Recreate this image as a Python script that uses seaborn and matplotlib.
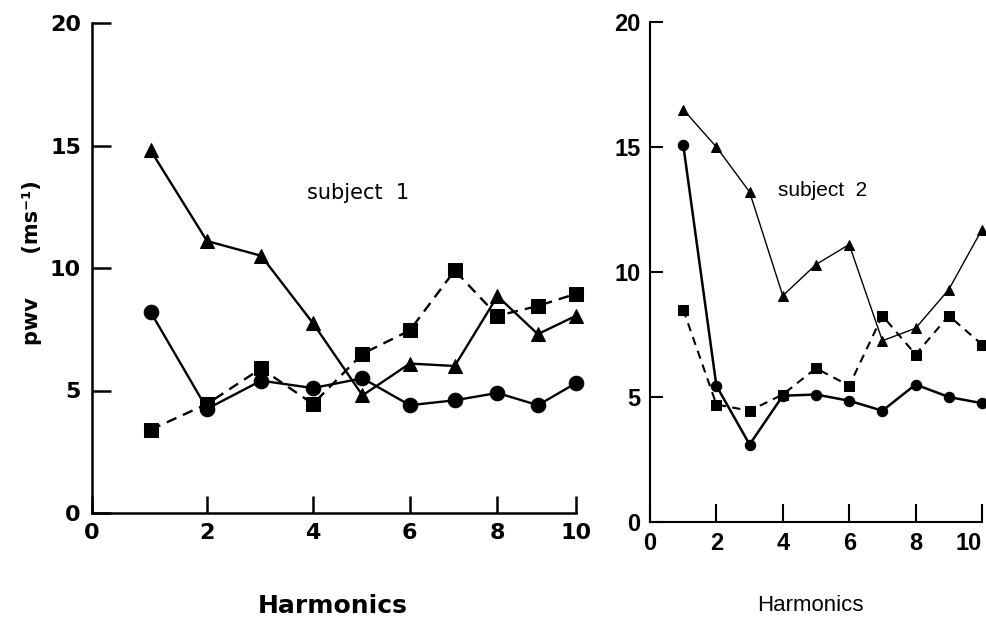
import numpy as np
import pandas as pd
import matplotlib
matplotlib.use("Agg")
import matplotlib.pyplot as plt
from matplotlib.font_manager import FontProperties
import seaborn as sns

# ---------------- data ----------------
harmonics = [1, 2, 3, 4, 5, 6, 7, 8, 9, 10]

s1_triangle = [14.8, 11.1, 10.5, 7.75, 4.8, 6.1, 6.0, 8.85, 7.3, 8.05]
s1_circle = [8.2, 4.25, 5.4, 5.1, 5.5, 4.4, 4.6, 4.9, 4.4, 5.3]
s1_square = [3.4, 4.45, 5.9, 4.45, 6.5, 7.45, 9.9, 8.05, 8.45, 8.95]

s2_triangle = [16.5, 15.0, 13.2, 9.05, 10.3, 11.1, 7.25, 7.75, 9.3, 11.7]
s2_circle = [15.1, 5.45, 3.1, 5.05, 5.1, 4.85, 4.45, 5.5, 5.0, 4.75]
s2_square = [8.5, 4.7, 4.45, 5.1, 6.15, 5.45, 8.25, 6.7, 8.25, 7.1]

x_ticks = [0, 2, 4, 6, 8, 10]
y_ticks = [0, 5, 10, 15, 20]
panel_titles = ["subject  1", "subject  2"]
x_label = "Harmonics"
y_label = "pwv      (ms\u207b\u00b9)"

# ---------------- figure ----------------
sns.set_theme(style="white")
plt.rcParams["font.family"] = ["DejaVu Sans"]

fig = plt.figure(figsize=(9.86, 6.17), dpi=100)
W, H = 986, 617
ax1 = fig.add_axes([92 / W, 1 - 513 / H, (576 - 92) / W, (513 - 23) / H])
ax2 = fig.add_axes([650 / W, 1 - 522 / H, (982 - 650) / W, (522 - 22) / H])


def df_of(vals):
    return pd.DataFrame({"harmonic": harmonics, "pwv": vals})


def draw(ax, tri, circ, sq, ms, lw_tri, lw_circ, lw_sq, dash):
    sns.lineplot(data=df_of(sq), x="harmonic", y="pwv", ax=ax, color="black",
                 marker="s", markersize=ms, markeredgecolor="black",
                 linewidth=lw_sq, dashes=dash, clip_on=False, zorder=3)
    sns.lineplot(data=df_of(circ), x="harmonic", y="pwv", ax=ax, color="black",
                 marker="o", markersize=ms, markeredgecolor="black",
                 linewidth=lw_circ, clip_on=False, zorder=3)
    sns.lineplot(data=df_of(tri), x="harmonic", y="pwv", ax=ax, color="black",
                 marker="^", markersize=ms, markeredgecolor="black",
                 linewidth=lw_tri, clip_on=False, zorder=3)


draw(ax1, s1_triangle, s1_circle, s1_square, 10.5, 1.7, 1.7, 1.7, (4.5, 3))
draw(ax2, s2_triangle, s2_circle, s2_square, 7.5, 1.0, 1.8, 1.5, (4, 3))

# slightly compressed harmonic axis of the left panel (as printed)
A, B = 5.98, -0.114


def fwd(x):
    x = np.asarray(x, dtype=float)
    return A * x + B * x ** 2


def inv(y):
    y = np.asarray(y, dtype=float)
    return (-A + np.sqrt(np.maximum(A * A + 4 * B * y, 0))) / (2 * B)


ax1.set_xscale("function", functions=(fwd, inv))

left_tick_fp = FontProperties(family="DejaVu Sans", weight="bold", size=16)
right_tick_fp = FontProperties(family="Liberation Sans", weight="bold", size=17)


def style(ax, lw, ylen, xlen, fp, xpad, ypad):
    ax.set_xlim(0, 10)
    ax.set_ylim(0, 20)
    for s in ["top", "right"]:
        ax.spines[s].set_visible(False)
    for s in ["left", "bottom"]:
        ax.spines[s].set_color("black")
        ax.spines[s].set_linewidth(lw)
    ax.set_xticks(x_ticks, labels=[str(t) for t in x_ticks])
    ax.set_yticks(y_ticks, labels=[str(t) for t in y_ticks])
    ax.tick_params(axis="y", which="major", direction="in", length=ylen, width=lw,
                   color="black", labelcolor="black", pad=ypad, left=True)
    ax.tick_params(axis="x", which="major", direction="in", length=xlen, width=lw,
                   color="black", labelcolor="black", pad=xpad, bottom=True)
    ax.minorticks_off()
    for lab in ax.get_xticklabels() + ax.get_yticklabels():
        lab.set_fontproperties(fp)
    ax.set_facecolor("white")
    ax.grid(False)


style(ax1, 1.8, 14, 12, left_tick_fp, 7, 8)
style(ax2, 1.5, 9, 13, right_tick_fp, 7, 7)
# last harmonic label of the right panel sits against the page edge
ax2.get_xticklabels()[-1].set_horizontalalignment("right")

# labels
ax1.set_xlabel(x_label, fontsize=18, fontweight="bold", family="DejaVu Sans", color="black")
ax1.xaxis.set_label_coords(0.498, -0.165)
ax2.set_xlabel(x_label, fontsize=16, family="Liberation Sans", color="black")
ax2.xaxis.label.set_verticalalignment("baseline")
ax2.xaxis.set_label_coords(0.482, -0.178)

ax1.set_ylabel(y_label, fontsize=15, fontweight="bold", family="DejaVu Sans", color="black")
ax1.yaxis.set_label_coords(-0.103, 0.51)
ax2.set_ylabel("")

ax1.text(0.55, 0.653, panel_titles[0], transform=ax1.transAxes, ha="center", va="center",
         fontsize=15, family="DejaVu Sans", color="black")
ax2.text(0.521, 0.664, panel_titles[1], transform=ax2.transAxes, ha="center", va="center",
         fontsize=15, family="Liberation Sans", color="black")

fig.savefig("out.png", dpi=100, facecolor="white")
